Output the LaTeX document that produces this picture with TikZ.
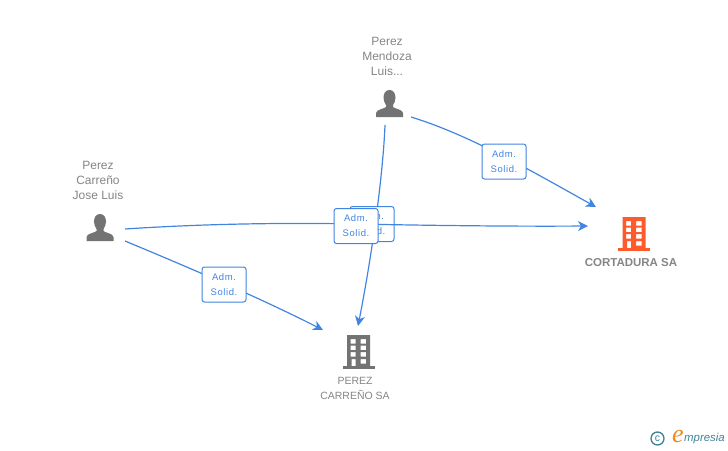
\documentclass[tikz,border=0pt]{standalone}
\usepackage{fontspec}
\setmainfont{Liberation Sans}
\newfontfamily\logoserif{Liberation Serif}
\usetikzlibrary{arrows.meta}
\definecolor{linkblue}{HTML}{4285E0}
\definecolor{txtgray}{HTML}{858585}
\definecolor{icongray}{HTML}{737373}
\definecolor{orangeb}{HTML}{FF5A2B}
\definecolor{logoteal}{HTML}{3F8296}
\definecolor{logoorange}{HTML}{F08A1D}
\tikzset{
  x=1pt,y=-1pt,
  link/.style={draw=linkblue,line width=1.2pt,-{Stealth[length=10pt,width=10pt,inset=3pt]}},
  tagbox/.style={draw=linkblue,fill=white,rounded corners=2.5pt,line width=1pt,minimum width=44pt,minimum height=35pt,inner sep=0pt,align=center,text=linkblue,font=\fontsize{9.5}{15}\selectfont\addfontfeatures{LetterSpace=6}},
  nametext/.style={text=txtgray,align=center,inner sep=0pt,font=\fontsize{12}{15}\selectfont},
  comptext/.style={text=txtgray,align=center,inner sep=0pt,font=\fontsize{10.5}{15}\selectfont},
  pics/person/.style={code={
    \fill[icongray] (0,0) .. controls (-4.5,0) and (-6,4) .. (-6,8) .. controls (-6,11) and (-4.5,13.5) .. (-3.5,15) -- (-3.5,17) .. controls (-6,19) and (-13,19.5) .. (-13.5,23) -- (-13.5,27) -- (13.5,27) -- (13.5,23) .. controls (13,19.5) and (6,19) .. (3.5,17) -- (3.5,15) .. controls (4.5,13.5) and (6,11) .. (6,8) .. controls (6,4) and (4.5,0) .. (0,0) -- cycle;
  }},
  pics/building/.style={code={
    \fill[#1,even odd rule] (-11.5,0) rectangle (11.5,32)
      (-8,4) rectangle (-3,8.5) (2,4) rectangle (7.5,8.5)
      (-8,10.5) rectangle (-3,15) (2,10.5) rectangle (7.5,15)
      (-8,17) rectangle (-3,21.5) (2,17) rectangle (7.5,21.5)
      (-7,24) rectangle (-3,32) (2,24) rectangle (7.5,28.5);
    \fill[#1] (-16,31) rectangle (16,34);
  }}
}
\begin{document}
\begin{tikzpicture}
\useasboundingbox (0,0) rectangle (728,450);
% anchor points
\coordinate (mendozaA) at (411,117);
\coordinate (mendozaB) at (385,125);
\coordinate (joseA) at (125,229);
\coordinate (joseB) at (125,241);
\coordinate (cortA) at (596,207);
\coordinate (cortB) at (588,226);
\coordinate (perezA) at (358,326);
\coordinate (perezB) at (323,330);
% connectors
\draw[link] (mendozaA) .. controls (470,135) and (535,173) .. (cortA);
\draw[link] (mendozaB) .. controls (383,175) and (372,255) .. (perezA);
\draw[link] (joseB) .. controls (190,268) and (260,298) .. (perezB);
% labels
\node[tagbox] (tagMC) at (504,161.5) {Adm.\\Solid.};
\node[tagbox] (tagJP) at (224,284.5) {Adm.\\Solid.};
\node[tagbox] (tagMP) at (372,224) {Adm.\\Solid.};
\draw[link] (joseA) .. controls (200,224) and (280,222.5) .. (356,224) .. controls (432,225.5) and (510,226.5) .. (cortB);
\node[tagbox] (tagJC) at (356,226) {Adm.\\Solid.};
% people
\pic at (389.5,90) {person};
\pic at (100,214) {person};
\node[nametext] (mendoza) at (387,56) {Perez\\Mendoza\\Luis...};
\node[nametext] (jose) at (98,180) {Perez\\Carreño\\Jose Luis};
% companies
\pic at (358.5,335) {building=icongray};
\pic at (634,217) {building=orangeb};
\node[comptext] (perez) at (355,388.5) {PEREZ\\CARREÑO SA};
\node[text=txtgray,inner sep=0pt,font=\fontsize{11.5}{14}\selectfont\bfseries] (cort) at (631,263) {CORTADURA SA};
% logo
\node[draw=logoteal,line width=1.3pt,circle,minimum size=13pt,inner sep=0pt,text=logoteal,font=\fontsize{10.5}{10}\selectfont] (copy) at (657.5,438.5) {c};
\node[text=logoorange,inner sep=0pt,font=\fontsize{26}{26}\logoserif\itshape] (logoe) at (678,436.5) {e};
\node[text=logoteal,inner sep=0pt,anchor=west,font=\fontsize{11.4}{12}\selectfont\itshape] (logot) at (684,438.5) {mpresia};
\end{tikzpicture}
\end{document}
